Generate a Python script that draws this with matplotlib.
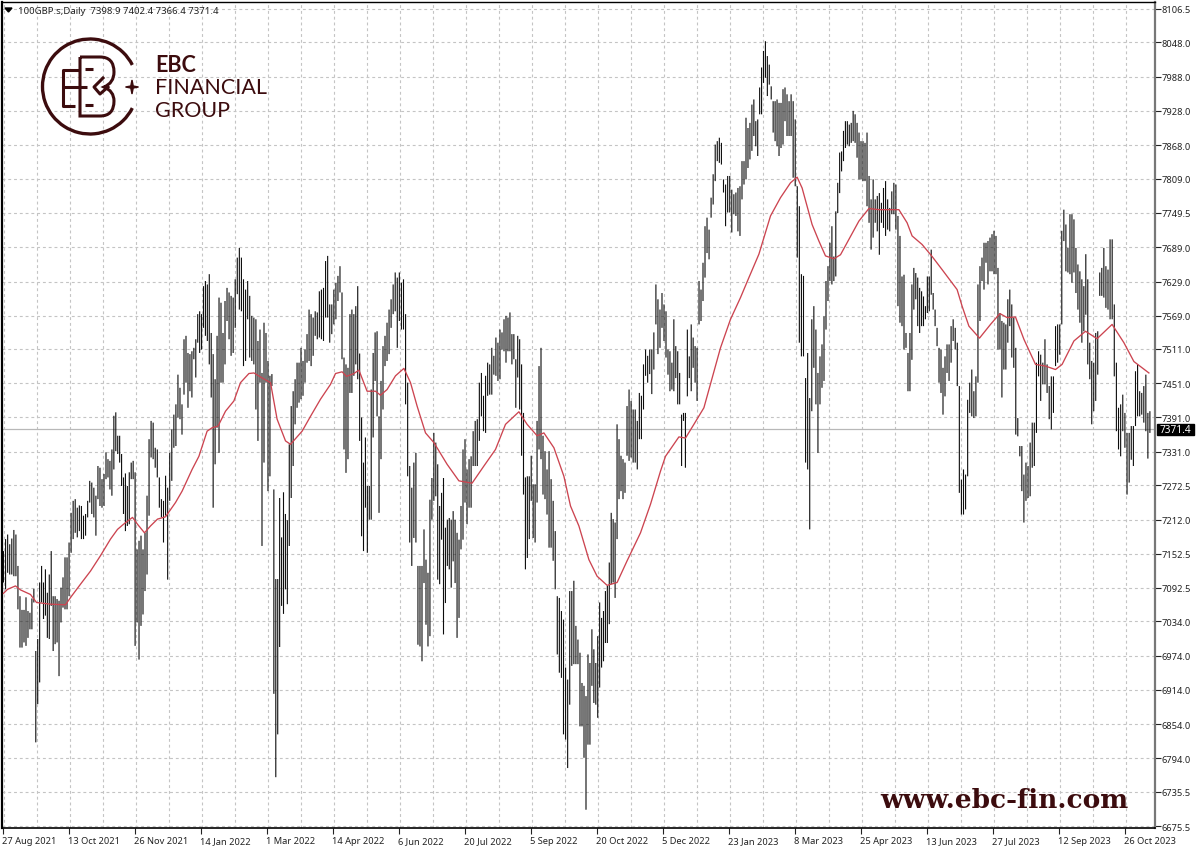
import numpy as np
import matplotlib
matplotlib.use('Agg')
from matplotlib import pyplot as plt
from matplotlib.patches import Arc, PathPatch, Polygon, Rectangle
from matplotlib.path import Path

# daily high / low, one pair of lists per stretch of the time axis
high_1 = [7157,7178,7186,7169,7179,7194,7186,7131,7078,7054,7054,7076,7052,7049,7074,7091,6982,7003,7102,7131,7102,7125,7084,7116,7157,7078,7078,7073,7070,7093,7111,7146,7146,7172,7224,7245,7248,7233,7237,7236,7219,7222,7245,7280,7277,7268,7254,7306,7303,7283,7292,7330,7318,7315,7335,7394,7400,7359,7359,7327,7286,7293,7271,7295,7312,7315,7295,7160,7175,7184,7160,7189,7254,7353,7385,7382,7338,7335,7286,7248,7245,7289]
low_1 = [7102,7090,7119,7116,7116,7113,7113,7055,6988,6988,6997,6991,7005,7020,7020,7067,6822,6889,6927,7067,7038,7044,7005,7003,7061,6982,6994,6997,6938,7032,7058,7055,7055,7078,7154,7178,7189,7181,7192,7178,7178,7184,7216,7242,7222,7216,7184,7248,7236,7233,7236,7283,7286,7265,7254,7300,7332,7327,7312,7271,7222,7192,7201,7204,7283,7283,6991,7032,6967,7026,7046,7087,7116,7219,7321,7318,7303,7286,7233,7216,7172,7219]

high_2 = [7268,7329,7370,7396,7414,7466,7443,7414,7528,7534,7504,7502,7507,7513,7528,7572,7577,7572,7621,7630,7624,7642,7539,7502,7458,7534,7601,7592,7539,7595,7618,7610,7604,7601,7633,7671,7688,7671,7633,7615,7630,7604,7569,7566,7563,7525,7545,7469,7557,7539,7490,7464,7467,7265,7108,7108,7250,7181,7260,7222,7211,7344,7411,7437,7458,7487,7487,7513,7490,7510,7537,7580,7572,7566,7577,7575,7612,7615,7618,7665,7674,7589]
low_2 = [7107,7245,7280,7338,7341,7391,7388,7361,7431,7452,7408,7437,7426,7493,7461,7522,7504,7510,7548,7534,7525,7484,7426,7233,7309,7373,7329,7452,7452,7484,7560,7528,7499,7504,7548,7607,7580,7577,7481,7490,7563,7496,7490,7484,7405,7350,7452,7166,7312,7452,7262,7288,7446,6907,6761,6836,6989,7061,7047,7090,7064,7166,7250,7306,7379,7408,7417,7423,7429,7452,7487,7490,7481,7499,7534,7528,7531,7528,7525,7566,7566,7522]

high_3 = [7589,7615,7627,7639,7656,7610,7496,7484,7478,7572,7580,7572,7586,7621,7503,7391,7312,7356,7271,7271,7440,7504,7540,7542,7393,7455,7516,7534,7557,7580,7598,7624,7645,7636,7645,7627,7633,7572,7452,7306,7268,7312,7329,7131,7131,7131,7195,7142,7119,7247,7285,7364,7347,7309,7236,7259,7285,7198,7212,7215,7212,7227,7212,7189,7177,7236,7335,7353,7300,7318,7323,7367,7385,7388,7452,7469,7429,7464,7487,7484,7513,7499]
low_3 = [7537,7554,7563,7595,7610,7493,7335,7294,7318,7434,7434,7464,7484,7458,7350,7183,7157,7233,7154,7212,7212,7356,7455,7393,7224,7318,7405,7481,7490,7502,7548,7572,7577,7513,7560,7545,7545,7414,7288,7172,7131,7180,7172,6993,6990,6964,7101,7028,6990,7008,7212,7245,7253,7107,7099,7177,7011,7066,7131,7125,7093,7139,7101,7005,7040,7160,7177,7242,7204,7233,7233,7306,7306,7306,7350,7393,7367,7364,7429,7431,7431,7466]

high_4 = [7531,7522,7545,7540,7563,7569,7566,7575,7537,7537,7493,7534,7528,7484,7399,7286,7288,7288,7324,7274,7274,7385,7481,7513,7359,7332,7300,7332,7283,7245,7192,7078,7075,7052,7037,6953,6932,7087,7087,7105,7026,7002,6979,6926,6921,6903,6976,6961,7020,6985,6961,7008,7067,7040,7052,7087,7096,7137,7224,7213,7207,7379,7353,7324,7318,7312,7411,7440,7420,7405,7405,7385,7434,7429,7484,7510,7499,7510,7510,7540,7624,7598]
low_4 = [7464,7455,7458,7510,7507,7487,7507,7507,7484,7493,7408,7461,7405,7324,7256,7125,7145,7178,7245,7180,7172,7242,7335,7318,7256,7248,7221,7163,7163,7140,7090,6976,6944,6935,6836,6827,6777,6888,6956,6959,6959,6959,6850,6850,6795,6704,6818,6818,6921,6891,6888,6865,6918,6953,6964,6996,6996,7029,7099,7102,7075,7178,7248,7262,7248,7259,7324,7315,7321,7312,7312,7300,7353,7353,7405,7464,7452,7467,7432,7475,7554,7502]

high_5 = [7580,7609,7589,7577,7510,7507,7487,7563,7516,7507,7469,7396,7399,7399,7545,7498,7554,7531,7516,7513,7630,7615,7662,7726,7741,7720,7776,7817,7869,7875,7881,7872,7808,7799,7814,7814,7790,7782,7785,7793,7796,7840,7840,7916,7898,7907,7939,7948,7910,7913,7969,8004,8033,8050,8024,8009,7971,7945,7945,7948,7942,7942,7966,7969,7957,7945,7957,7945,7913,7796,7761,7642,7639,7460,7504,7425,7563,7586,7545,7469,7498,7519]
low_5 = [7513,7548,7525,7496,7466,7437,7440,7437,7460,7414,7414,7306,7385,7303,7428,7460,7437,7478,7452,7420,7554,7560,7595,7636,7679,7668,7741,7764,7805,7840,7837,7834,7785,7726,7750,7750,7715,7747,7744,7717,7709,7773,7799,7808,7828,7843,7858,7884,7866,7849,7922,7922,7977,7986,7954,7974,7948,7890,7875,7866,7849,7863,7869,7910,7884,7884,7884,7811,7796,7671,7522,7498,7498,7312,7300,7195,7402,7478,7414,7329,7414,7443]

high_6 = [7568,7630,7656,7697,7726,7673,7752,7802,7855,7857,7893,7910,7910,7904,7907,7928,7922,7907,7890,7875,7875,7872,7890,7814,7773,7808,7773,7779,7784,7767,7793,7805,7773,7758,7787,7802,7799,7744,7709,7638,7641,7539,7504,7539,7624,7653,7644,7636,7618,7612,7603,7586,7638,7638,7685,7609,7580,7548,7513,7510,7478,7498,7519,7519,7551,7563,7548,7522,7446,7282,7300,7291,7422,7452,7475,7437,7463,7624,7656,7671,7697,7697]
low_6 = [7455,7545,7595,7630,7624,7630,7638,7749,7784,7822,7840,7863,7869,7866,7872,7875,7872,7846,7808,7808,7805,7805,7761,7732,7685,7706,7732,7717,7676,7732,7723,7709,7720,7717,7747,7747,7720,7586,7557,7551,7510,7513,7437,7437,7492,7580,7598,7551,7539,7551,7551,7563,7574,7577,7606,7580,7551,7516,7452,7434,7396,7428,7469,7455,7487,7525,7510,7446,7259,7221,7221,7230,7288,7399,7393,7390,7393,7452,7560,7630,7615,7662]

high_7 = [7700,7706,7712,7718,7709,7653,7574,7560,7557,7554,7598,7615,7589,7566,7513,7390,7341,7341,7291,7312,7306,7347,7382,7382,7487,7507,7501,7487,7528,7484,7446,7463,7463,7551,7554,7554,7718,7755,7729,7688,7747,7747,7738,7688,7659,7647,7633,7621,7677,7633,7522,7490,7487,7539,7542,7645,7653,7688,7656,7650,7703,7703,7589,7487,7408,7414,7431,7399,7364,7364,7376,7376,7472,7484,7437,7434,7446,7466,7399,7402]
low_7 = [7624,7647,7647,7642,7642,7510,7510,7426,7475,7475,7522,7551,7496,7478,7361,7358,7323,7262,7207,7245,7250,7253,7303,7306,7364,7463,7420,7449,7449,7434,7388,7370,7399,7481,7487,7501,7554,7700,7647,7645,7642,7627,7645,7609,7580,7557,7522,7542,7571,7484,7458,7379,7402,7420,7466,7604,7604,7601,7583,7580,7563,7563,7463,7367,7335,7323,7367,7338,7256,7277,7317,7306,7376,7393,7393,7396,7382,7367,7319,7364]

# moving average, read at the bar positions in ma_bar
ma_bar = [0,2,6,8.5,13.5,16.5,23.5,31,34,38.5,43.5,48.5,53.5,57,60,64.5,67,70.5,73.5,77,81,86,89.3,94.3,97.7,101.8,104.3,107.3,111,115.2,118.5,122.7,125.2,128.5,133.5,136.8,141,143.5,149.3,153.5,158.5,163.5,166,169.3,171.5,175.2,177.7,181.8,186,188.5,191.8,196,200.2,203.5,206.8,211,215.2,221.8,227.7,234.3,240.2,246,251,257.7,261.8,266.8,270.2,275.2,280.2,283.5,287.7,292.7,296.8,301.8,306.8,311.8,318.5,323.5,328.5,331,337.7,341,345.2,350.2,354.3,358.5,363.5,368.5,372.7,377.7,383.5,388.5,393.5,396.8,399.3,404.3,407.7,411,415.2,418.5,422.7,427.7,432.7,437.7,447.7,451.8,454.3,459.3,464.3,469.3,476.8,479.3,482.7,488,493.5,498.2,501.8,506,510.2,516,521,526,529.3,535.2,541,546.8,554.3,560.2,565.2,572.7]
ma_value = [7083,7090,7096,7089,7081,7067,7064,7063,7078,7099,7122,7149,7178,7195,7204,7216,7204,7189,7201,7213,7217,7242,7262,7300,7323,7367,7373,7376,7402,7420,7452,7468,7469,7462,7452,7388,7350,7344,7367,7393,7423,7449,7468,7471,7463,7468,7474,7437,7437,7430,7440,7464,7477,7452,7411,7364,7347,7309,7280,7276,7306,7335,7379,7401,7379,7359,7364,7338,7288,7236,7201,7142,7113,7097,7102,7140,7189,7239,7297,7323,7357,7355,7379,7408,7460,7513,7563,7601,7636,7677,7744,7776,7802,7812,7793,7729,7700,7674,7669,7676,7703,7735,7757,7755,7755,7732,7709,7694,7673,7650,7615,7586,7551,7530,7554,7573,7566,7567,7528,7484,7481,7475,7484,7525,7542,7529,7554,7522,7489,7469]

price_ticks = [8106.5,8048.0,7988.0,7928.0,7868.0,7809.0,7749.5,7689.0,7629.0,7569.0,7511.0,7451.0,7391.0,7331.0,7272.5,7212.0,7152.5,7092.5,7034.0,6974.0,6914.0,6854.0,6794.0,6735.5,6675.5]
date_labels = ['27 Aug 2021','13 Oct 2021','26 Nov 2021','14 Jan 2022','1 Mar 2022','14 Apr 2022','6 Jun 2022','20 Jul 2022','5 Sep 2022','20 Oct 2022','5 Dec 2022','23 Jan 2023','8 Mar 2023','25 Apr 2023','13 Jun 2023','27 Jul 2023','12 Sep 2023','26 Oct 2023']
last_price = 7371.4

plt.rcParams['font.family'] = ['Noto Sans', 'DejaVu Sans']
LOGO = '#3c0c0e'

highs = [high_1, high_2, high_3, high_4, high_5, high_6, high_7]
lows = [low_1, low_2, low_3, low_4, low_5, low_6, low_7]
assert [len(h) for h in highs] == [len(l) for l in lows], ([len(h) for h in highs], [len(l) for l in lows])
high = np.concatenate(highs)
low = np.concatenate(lows)
# each stretch covers 82 bars of time, spread evenly over it
spread = [i * 82 + np.arange(len(h)) * 82.0 / len(h) for i, h in enumerate(highs)]
bars = np.concatenate(spread)
# the source screenshot was rescaled, so its bars drift in and out of the pixel grid:
# crisp black in some stretches, merged grey in others
bars = bars + 0.25 * np.sin(bars * 2 * np.pi / 40)

W, H = 1196, 862
fig = plt.figure(figsize=(W / 100, H / 100), dpi=100, facecolor='white')
ax = fig.add_axes([2 / W, (H - 829) / H, 1153 / W, 826 / H])

ax.set_axisbelow(True)
ax.set_yticks(price_ticks)
ax.set_yticklabels(['%.1f' % p for p in price_ticks])
ax.yaxis.tick_right()
ax.set_xticks(np.arange(len(date_labels)) * 33 - 0.5)
ax.set_xticklabels(date_labels, ha='left')
ax.set_xticks(np.arange(0, 35) * 16.5, minor=True)
ax.tick_params(axis='x', which='minor', length=0)
ax.tick_params(axis='y', which='major', labelsize=6.7, length=4, width=0.8, pad=0.5, colors='#222222')
ax.tick_params(axis='x', which='major', labelsize=6.7, length=4, width=0.8, pad=1.5, colors='#222222')
grid_style = dict(color='#c4c4c4', linestyle=(0, (2.6, 2.6)), linewidth=0.8)
ax.grid(True, which='major', axis='y', **grid_style)
ax.grid(True, which='minor', axis='x', **grid_style)

ax.axhline(last_price, color='#b8b8b8', linewidth=0.9, zorder=1.5)
bar_lines = ax.vlines(bars, low, high, colors='#0c0c0c', linewidth=0.8, zorder=2)
bar_lines.set_snap(False)
ax.plot(ma_bar, ma_value, color='#cc4450', linewidth=0.95, zorder=3)

# limits last, set_xticks widens them otherwise. The quarter bar puts bar centres on pixel centres
ax.set_xlim(-0.75, 575.75)
ax.set_ylim(6672, 8118.7)

ax.spines['left'].set_linewidth(1.6)
ax.spines['bottom'].set_linewidth(1.2)
ax.spines['top'].set_linewidth(1.0)
ax.spines['right'].set_linewidth(1.6)
ax.spines['right'].set_color('#777777')

# overlay in pixel coordinates for the header, price tag and logo
top = fig.add_axes([0, 0, 1, 1], facecolor='none')
top.set_xlim(0, W)
top.set_ylim(H, 0)
top.axis('off')

top.add_patch(Rectangle((1156.5, 425), 37.5, 11, color='black'))
top.text(1175.5, 430.5, '7371.4', color='white', fontsize=7.2, va='center', ha='center', fontweight='bold')

top.add_patch(Polygon([[5, 9], [12, 9], [8.5, 13]], closed=True, color='black'))
top.text(18, 11, '100GBP.s,Daily  7398.9 7402.4 7366.4 7371.4', fontsize=6.9, color='#222222', va='center')

top.add_patch(Arc((90, 87.5), 95, 95, theta1=27, theta2=333, color=LOGO, linewidth=2.4))
lines = [[(80, 71), (63, 71), (63, 107), (75, 107)],
         [(63, 88), (87, 88)],
         [(85, 70), (93, 70)],
         [(85, 106), (93, 106)]]
for pts in lines:
    top.plot(*zip(*pts), color=LOGO, linewidth=2.2, solid_capstyle='butt')
verts = [(80, 58), (80, 117), (100, 117), (114, 117), (114, 102), (114, 92), (104, 88), (114, 84), (114, 73), (114, 58), (100, 58), (80, 58)]
codes = [Path.MOVETO, Path.LINETO, Path.LINETO, Path.CURVE3, Path.CURVE3, Path.CURVE3, Path.CURVE3, Path.CURVE3, Path.CURVE3, Path.CURVE3, Path.CURVE3, Path.LINETO]
top.add_patch(PathPatch(Path(verts, codes), facecolor='none', edgecolor=LOGO, linewidth=2.2))
top.plot([103, 94, 100, 108], [79, 88, 95, 88], color=LOGO, linewidth=2.2)
top.add_patch(Polygon([[132, 81], [133.2, 87], [138.5, 88], [133.2, 89], [132, 95], [130.8, 89], [125.5, 88], [130.8, 87]], closed=True, color=LOGO))

lato = ['Lato', 'DejaVu Sans']
top.text(155, 65, 'EBC', fontsize=15.5, fontweight='bold', family=lato, color=LOGO, va='center')
top.text(155, 88, 'FINANCIAL', fontsize=15.5, family=lato, color=LOGO, va='center')
top.text(155, 111, 'GROUP', fontsize=15.5, family=lato, color=LOGO, va='center')
top.text(880, 808, 'www.ebc-fin.com', fontsize=19, fontweight='bold', family=['DejaVu Serif'], color=LOGO, va='baseline')

fig.savefig('out.png', dpi=100, facecolor='white')
